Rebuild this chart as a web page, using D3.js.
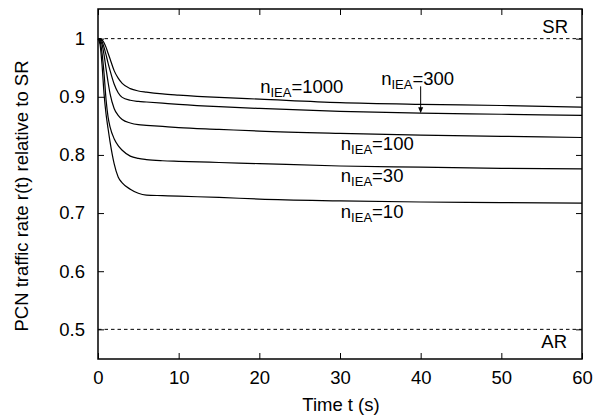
<!DOCTYPE html>
<html>
<head>
<meta charset="utf-8">
<style>
  body { margin: 0; background: #fff; }
  text { font-family: "Liberation Sans", Arial, sans-serif; fill: #000; }
</style>
</head>
<body>
<svg id="chart" width="603" height="416"></svg>
<script src="https://d3js.org/d3.v7.min.js"></script>
<script>

// time samples (s)
var times = [0, 0.25, 0.5, 0.75, 1, 1.25, 1.5, 2, 2.5, 3, 4, 5, 6, 8, 10, 15, 20, 30, 40, 50, 60];

// r(t) relative to SR
var n1000 = [1, 1, 0.998, 0.993, 0.985, 0.975, 0.965, 0.945, 0.932, 0.923, 0.914, 0.910, 0.908, 0.905, 0.903, 0.899, 0.896, 0.890, 0.887, 0.885, 0.882];
var n300  = [1, 0.999, 0.995, 0.985, 0.972, 0.958, 0.945, 0.922, 0.907, 0.899, 0.894, 0.892, 0.891, 0.889, 0.887, 0.883, 0.880, 0.875, 0.872, 0.870, 0.868];
var n100  = [1, 0.998, 0.99, 0.972, 0.948, 0.925, 0.905, 0.880, 0.868, 0.861, 0.855, 0.852, 0.851, 0.849, 0.847, 0.844, 0.841, 0.837, 0.834, 0.832, 0.830];
var n30   = [1, 0.996, 0.975, 0.94, 0.895, 0.865, 0.848, 0.828, 0.816, 0.808, 0.798, 0.794, 0.792, 0.790, 0.789, 0.787, 0.785, 0.781, 0.779, 0.777, 0.776];
var n10   = [1, 0.99, 0.955, 0.905, 0.87, 0.845, 0.822, 0.785, 0.762, 0.752, 0.741, 0.734, 0.731, 0.730, 0.729, 0.727, 0.724, 0.721, 0.719, 0.718, 0.717];

var seriesNames = ["1000", "300", "100", "30", "10"];
var seriesVals = [n1000, n300, n100, n30, n10];
// label anchor points (t, r) for each curve label
var labelT = [20.1, 35.1, 30.1, 30.1, 30.1];
var labelR = [0.906, 0.921, 0.808, 0.754, 0.691];

var xTicks = [0, 10, 20, 30, 40, 50, 60];
var yTicks = [0.5, 0.6, 0.7, 0.8, 0.9, 1];
var yTickLabels = ["0.5", "0.6", "0.7", "0.8", "0.9", "1"];

var refLines = [{v: 1, name: "SR"}, {v: 0.5, name: "AR"}];

var pLeft = 98, pRight = 582, pTop = 9, pBottom = 359;
var fs = "18.5px";
var svg = d3.select("#chart");

var x = d3.scaleLinear().domain([0, 60]).range([pLeft, pRight]);
var y = d3.scaleLinear().domain([0.449, 1.051]).range([pBottom, pTop]);

// reference lines
svg.selectAll(".ref").data(refLines).enter().append("line")
  .attr("x1", pLeft).attr("x2", pRight)
  .attr("y1", d => y(d.v)).attr("y2", d => y(d.v))
  .attr("stroke", "#000").attr("stroke-width", 1)
  .attr("stroke-dasharray", "3.5,3");
svg.append("text").attr("x", 568).attr("y", 33).attr("text-anchor", "end")
  .style("font-size", fs).text("SR");
svg.append("text").attr("x", 567).attr("y", 348).attr("text-anchor", "end")
  .style("font-size", fs).text("AR");

// curves
var line = d3.line().x((d, i) => x(times[i])).y(d => y(d)).curve(d3.curveMonotoneX);
svg.selectAll(".curve").data(seriesVals).enter().append("path")
  .attr("d", line).attr("fill", "none")
  .attr("stroke", "#000").attr("stroke-width", 1.2);

// labels n_IEA=...
seriesNames.forEach(function(n, i) {
  var t = svg.append("text").attr("x", x(labelT[i])).attr("y", y(labelR[i]))
    .style("font-size", fs);
  t.append("tspan").text("n");
  t.append("tspan").attr("dy", 4).style("font-size", "13px").text("IEA");
  t.append("tspan").attr("dy", -4).text("=" + n);
});

// arrow for n=300
var ax = x(40);
svg.append("line").attr("x1", ax).attr("x2", ax)
  .attr("y1", y(0.918)).attr("y2", y(0.878))
  .attr("stroke", "#000").attr("stroke-width", 1);
svg.append("path")
  .attr("d", "M" + (ax - 2.5) + "," + y(0.882) + "L" + (ax + 2.5) + "," + y(0.882) + "L" + ax + "," + y(0.8715) + "Z")
  .attr("fill", "#000");

// axes with inward ticks, mirrored
var xb = svg.append("g").attr("transform", "translate(0," + pBottom + ")")
  .call(d3.axisBottom(x).tickValues(xTicks).tickSize(-6).tickPadding(12).tickFormat(d3.format("d")));
var xt = svg.append("g").attr("transform", "translate(0," + pTop + ")")
  .call(d3.axisTop(x).tickValues(xTicks).tickSize(-6).tickFormat(""));
var yl = svg.append("g").attr("transform", "translate(" + pLeft + ",0)")
  .call(d3.axisLeft(y).tickValues(yTicks).tickSize(-6).tickPadding(13)
    .tickFormat((d, i) => yTickLabels[i]));
var yr = svg.append("g").attr("transform", "translate(" + pRight + ",0)")
  .call(d3.axisRight(y).tickValues(yTicks).tickSize(-6).tickFormat(""));

[xb, xt, yl, yr].forEach(function(g) {
  g.select(".domain").remove();
  g.selectAll(".tick line").attr("stroke", "#000").attr("stroke-width", 1);
  g.selectAll("text").style("font-size", fs).style("font-family", "Liberation Sans, Arial, sans-serif");
});

// frame
svg.append("rect").attr("x", pLeft).attr("y", pTop)
  .attr("width", pRight - pLeft).attr("height", pBottom - pTop)
  .attr("fill", "none").attr("stroke", "#000").attr("stroke-width", 1.5);

// axis titles
svg.append("text").attr("x", 341).attr("y", 411)
  .attr("text-anchor", "middle").style("font-size", fs).text("Time t (s)");
svg.append("text")
  .attr("transform", "translate(28,196) rotate(-90)")
  .attr("text-anchor", "middle").style("font-size", fs)
  .text("PCN traffic rate r(t) relative to SR");

</script>
</body>
</html>
